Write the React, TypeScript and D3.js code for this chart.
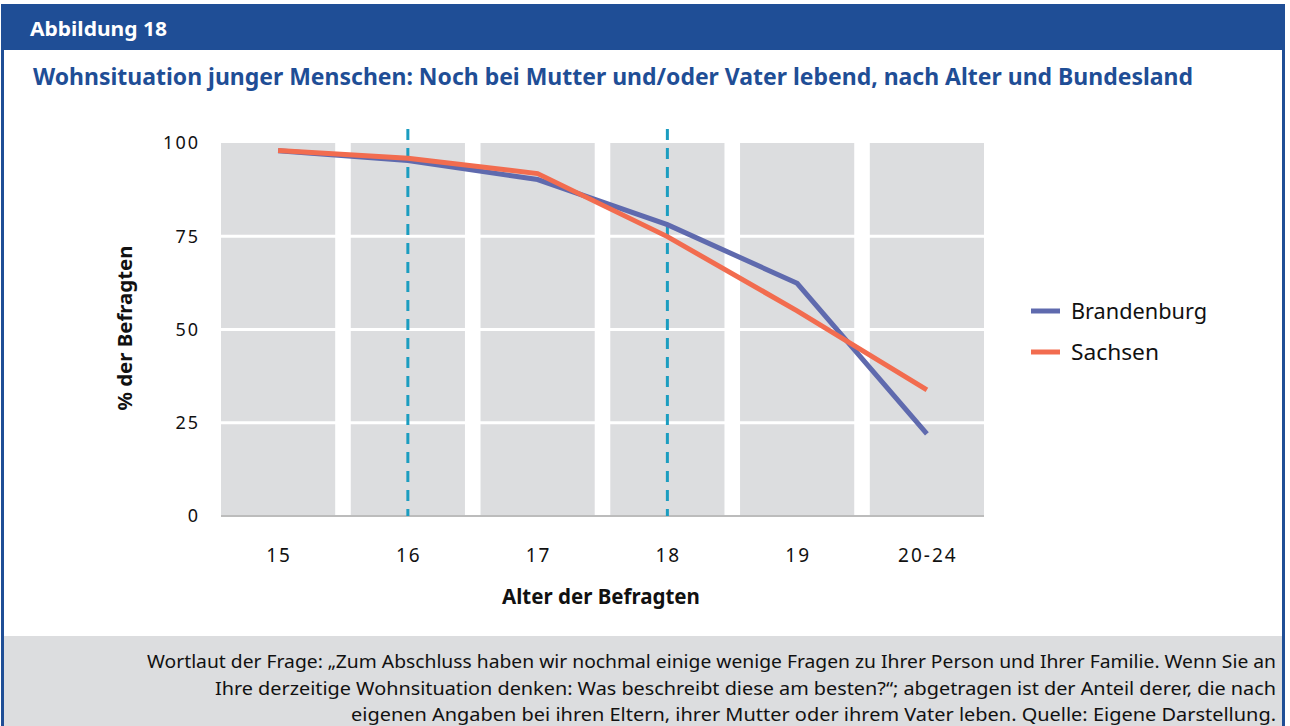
import * as d3 from "d3";

const ageGroups = ["15", "16", "17", "18", "19", "20-24"];
const brandenburg = [97.9, 95.3, 90.2, 78.1, 62.4, 22.0];
const sachsen = [98.0, 95.9, 91.8, 74.9, 55.0, 33.8];
const yTicks = [0, 25, 50, 75, 100];
const markedAges = ["16", "18"];

const series = [
  { name: "Brandenburg", values: brandenburg, color: "#5f6aae" },
  { name: "Sachsen", values: sachsen, color: "#f26c4f" },
];

const noteLines = [
  "Wortlaut der Frage: \u201EZum Abschluss haben wir nochmal einige wenige Fragen zu Ihrer Person und Ihrer Familie. Wenn Sie an",
  "Ihre derzeitige Wohnsituation denken: Was beschreibt diese am besten?\u201C; abgetragen ist der Anteil derer, die nach",
  "eigenen Angaben bei ihren Eltern, ihrer Mutter oder ihrem Vater leben. Quelle: Eigene Darstellung.",
];
const noteWidths = [1129, 1061, 925];

const W = 1290;
const H = 726;
const BLUE = "#1f4e96";
const GRAY = "#dcdddf";
const FONT = "'Noto Sans', 'Open Sans', sans-serif";

const PLOT = { left: 221, right: 984, top: 143, bottom: 516 };

export default function App() {
  const x = d3
    .scaleBand<string>()
    .domain(ageGroups)
    .range([PLOT.left, PLOT.right])
    .paddingInner(0.12)
    .paddingOuter(0);

  const y = d3.scaleLinear().domain([0, 100]).range([PLOT.bottom, PLOT.top]);
  const cx = (a: string) => (x(a) ?? 0) + x.bandwidth() / 2;

  const lineGen = d3
    .line<number>()
    .x((_, i) => cx(ageGroups[i]))
    .y(d => y(d));

  return (
    <svg
      width={W}
      height={H}
      style={{ position: "absolute", left: 0, top: 0, background: "white" }}
      fontFamily={FONT}
    >
      {/* frame */}
      <rect x={0} y={0} width={W} height={H} fill="white" />
      <rect x={1} y={4} width={1284} height={46} fill={BLUE} />
      <rect x={2} y={636} width={1281} height={H - 636} fill={GRAY} />
      <line x1={2.5} x2={2.5} y1={48} y2={H} stroke={BLUE} strokeWidth={3} />
      <line x1={1283.5} x2={1283.5} y1={48} y2={H} stroke={BLUE} strokeWidth={3} />

      <text x={30} y={36} fill="white" fontSize={20} fontWeight={700} textLength={137} lengthAdjust="spacingAndGlyphs">
        Abbildung 18
      </text>
      <text
        x={33}
        y={85}
        fill={BLUE}
        fontSize={24}
        fontWeight={700}
        textLength={1160}
        lengthAdjust="spacingAndGlyphs"
      >
        Wohnsituation junger Menschen: Noch bei Mutter und/oder Vater lebend, nach Alter und Bundesland
      </text>

      {/* band cells */}
      {ageGroups.map(a => (
        <rect
          key={a}
          x={x(a)}
          y={y(100)}
          width={x.bandwidth()}
          height={y(0) - y(100)}
          fill={GRAY}
        />
      ))}
      {/* white gridlines */}
      {yTicks
        .filter(t => t > 0 && t < 100)
        .map(t => (
          <line
            key={t}
            x1={PLOT.left}
            x2={PLOT.right}
            y1={y(t)}
            y2={y(t)}
            stroke="white"
            strokeWidth={3}
          />
        ))}
      <line
        x1={PLOT.left}
        x2={PLOT.right}
        y1={y(0)}
        y2={y(0)}
        stroke="#bcbcbc"
        strokeWidth={2}
      />

      {/* y ticks */}
      {yTicks.map(t => (
        <text
          key={t}
          x={200}
          y={y(t)}
          dy="0.35em"
          textAnchor="end"
          fontSize={18}
          letterSpacing={2}
          fill="#111"
        >
          {t}
        </text>
      ))}
      <text
        transform={`translate(132, ${328}) rotate(-90)`}
        textAnchor="middle"
        fontSize={20}
        fontWeight={700}
        fill="#111"
        textLength={165}
        lengthAdjust="spacingAndGlyphs"
      >
        % der Befragten
      </text>

      {/* x ticks */}
      {ageGroups.map(a => (
        <text key={a} x={cx(a) + 1} y={562} textAnchor="middle" fontSize={19} letterSpacing={2} fill="#111">
          {a}
        </text>
      ))}
      <text x={601} y={604} textAnchor="middle" fontSize={20.5} fontWeight={700} fill="#111">
        Alter der Befragten
      </text>

      {/* marker lines */}
      {markedAges.map(a => (
        <line
          key={a}
          x1={cx(a)}
          x2={cx(a)}
          y1={129}
          y2={y(0)}
          stroke="#1b9dc0"
          strokeWidth={3}
          strokeDasharray="11 8"
        />
      ))}

      {/* series */}
      {series.map(s => (
        <path
          key={s.name}
          d={lineGen(s.values) ?? ""}
          fill="none"
          stroke={s.color}
          strokeWidth={5}
        />
      ))}

      {/* legend */}
      {series.map((s, i) => (
        <g key={s.name} transform={`translate(1031, ${311 + i * 41})`}>
          <line x1={0} x2={29} y1={0} y2={0} stroke={s.color} strokeWidth={5} />
          <text x={40} y={0} dy="0.35em" fontSize={22} fill="#111" textLength={136 * (s.name === "Brandenburg" ? 1 : 88 / 136)} lengthAdjust="spacingAndGlyphs">
            {s.name}
          </text>
        </g>
      ))}

      {/* note */}
      {noteLines.map((l, i) => (
        <text
          key={i}
          x={1276}
          y={668 + i * 26.5}
          textAnchor="end"
          fontSize={18.5}
          fill="#111"
          textLength={noteWidths[i]}
          lengthAdjust="spacingAndGlyphs"
        >
          {l}
        </text>
      ))}
    </svg>
  );
}
